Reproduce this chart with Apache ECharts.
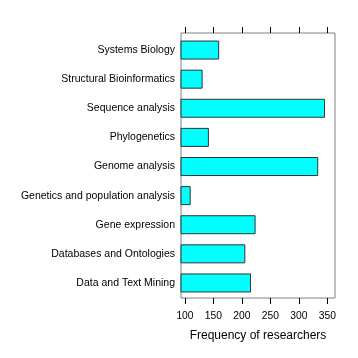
<!DOCTYPE html>
<html>
<head>
<meta charset="utf-8">
<script src="https://cdn.jsdelivr.net/npm/echarts@6/dist/echarts.min.js"></script>
<style>html,body{margin:0;padding:0;background:#fff}#c{width:358px;height:358px}</style>
</head>
<body>
<div id="c"></div>
<script>
// categories listed bottom to top
var categories = ['Data and Text Mining', 'Databases and Ontologies', 'Gene expression',
  'Genetics and population analysis', 'Genome analysis', 'Phylogenetics',
  'Sequence analysis', 'Structural Bioinformatics', 'Systems Biology'];
var researchers = [216, 206, 224, 110, 334, 142, 346, 131, 160];
var tickValues = [100, 150, 200, 250, 300, 350];
var axisMin = 93, axisMax = 363.5;

var font = "'Liberation Sans', Arial, Helvetica, sans-serif";
var chart = echarts.init(document.getElementById('c'), null, {renderer: 'canvas'});
chart.setOption({
  animation: false,
  backgroundColor: '#fff',
  grid: [
    {left: 181, top: 33, width: 154, height: 265, show: true, borderColor: '#808080', borderWidth: 1, backgroundColor: 'transparent'},
    {left: 181, top: 35.5, width: 154, height: 262}
  ],
  xAxis: [
    {gridIndex: 0, type: 'value', position: 'bottom', min: axisMin, max: axisMax,
     axisLine: {show: false}, splitLine: {show: false},
     axisTick: {show: true, length: 6, customValues: tickValues, lineStyle: {color: '#000'}},
     axisLabel: {show: true, customValues: tickValues, margin: 13, color: '#000', fontSize: 10.3, fontFamily: font},
     name: 'Frequency of researchers', nameLocation: 'middle', nameGap: 32,
     nameTextStyle: {color: '#000', fontSize: 12, fontFamily: font}},
    {gridIndex: 0, type: 'value', position: 'top', min: axisMin, max: axisMax,
     axisLine: {show: false}, splitLine: {show: false},
     axisTick: {show: true, length: 6, customValues: tickValues, lineStyle: {color: '#000'}},
     axisLabel: {show: false}},
    {gridIndex: 1, type: 'value', min: axisMin, max: axisMax, show: false}
  ],
  yAxis: [
    {gridIndex: 0, type: 'value', show: false},
    {gridIndex: 1, type: 'category', data: categories,
     axisLine: {show: false}, axisTick: {show: false}, splitLine: {show: false},
     axisLabel: {margin: 6, color: '#000', fontSize: 10.5, fontFamily: font}}
  ],
  series: [{
    type: 'bar', xAxisIndex: 2, yAxisIndex: 1, data: researchers,
    barWidth: 19, clip: true,
    itemStyle: {color: '#00FFFF', borderColor: '#333', borderWidth: 1}
  }]
});
</script>
</body>
</html>
